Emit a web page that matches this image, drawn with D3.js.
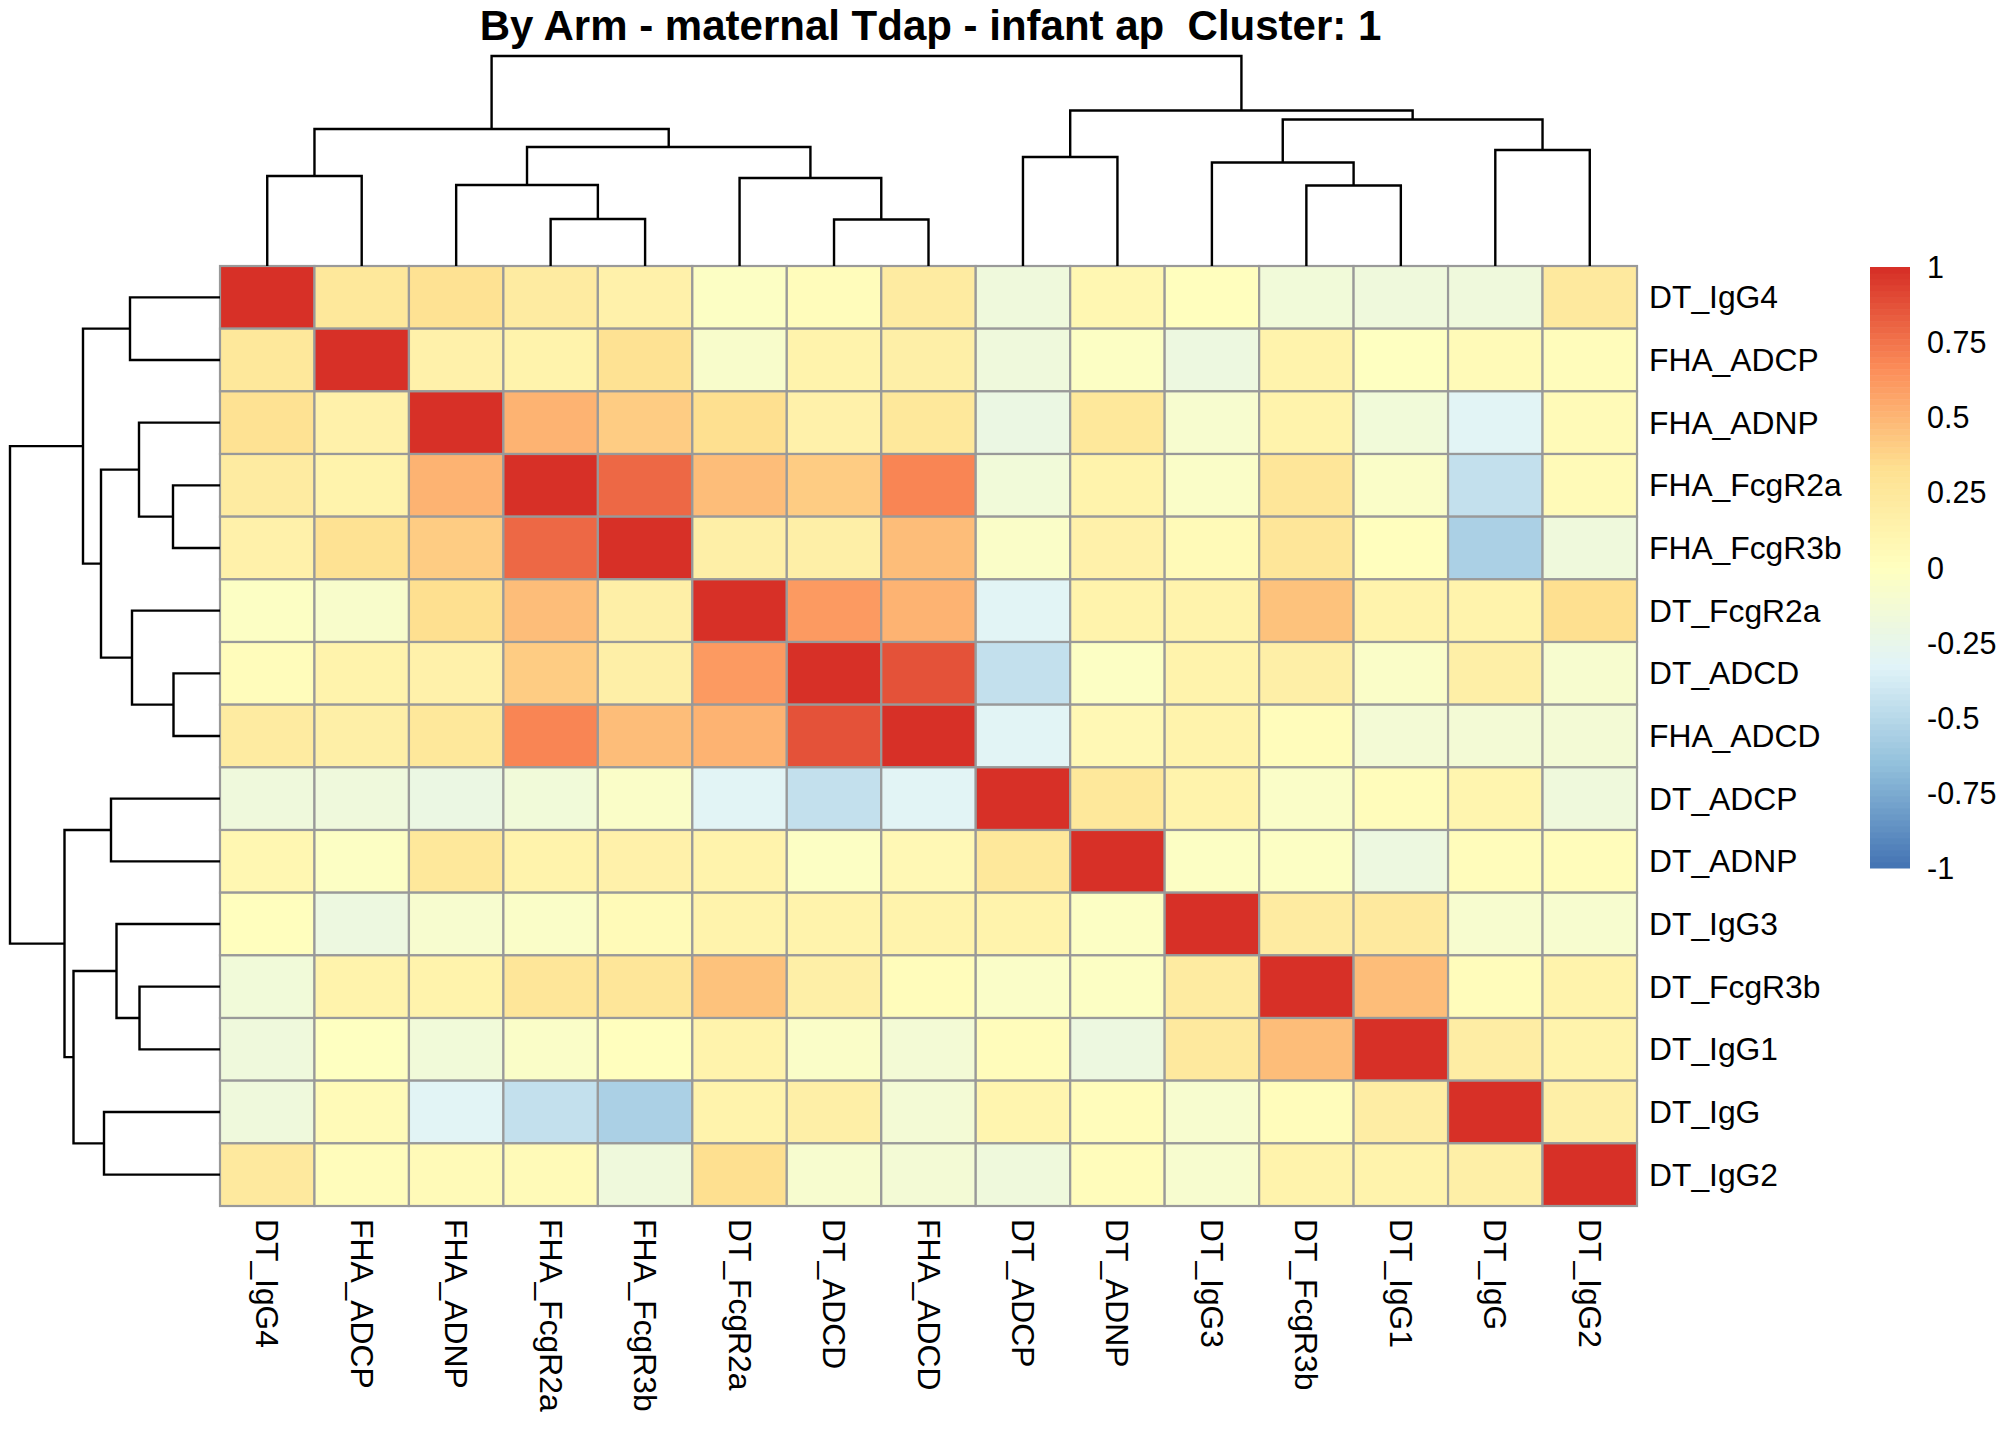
<!DOCTYPE html>
<html>
<head>
<meta charset="utf-8">
<script src="https://cdn.jsdelivr.net/npm/d3@7"></script>
<style>
  body { margin: 0; background: #fff; }
  text { font-family: "Liberation Sans", Arial, sans-serif; fill: #000; }
</style>
</head>
<body>
<div id="chart"></div>
<script>
// display order of rows and columns (same clustering on both axes)
const labels = ["DT_IgG4", "FHA_ADCP", "FHA_ADNP", "FHA_FcgR2a", "FHA_FcgR3b",
  "DT_FcgR2a", "DT_ADCD", "FHA_ADCD", "DT_ADCP", "DT_ADNP",
  "DT_IgG3", "DT_FcgR3b", "DT_IgG1", "DT_IgG", "DT_IgG2"];

// correlation values, one array per row
const corr = [
  [ 1.00,  0.24,  0.30,  0.20,  0.15, -0.03,  0.03,  0.20, -0.17,  0.08,  0.01, -0.15, -0.17, -0.17,  0.22],
  [ 0.24,  1.00,  0.15,  0.12,  0.30, -0.08,  0.13,  0.17, -0.17, -0.04, -0.20,  0.13, -0.02,  0.05,  0.03],
  [ 0.30,  0.15,  1.00,  0.50,  0.40,  0.32,  0.15,  0.25, -0.22,  0.25, -0.10,  0.13, -0.16, -0.32,  0.05],
  [ 0.20,  0.12,  0.50,  1.00,  0.78,  0.47,  0.40,  0.68, -0.16,  0.13, -0.06,  0.27, -0.05, -0.45,  0.04],
  [ 0.15,  0.30,  0.40,  0.78,  1.00,  0.17,  0.17,  0.47, -0.06,  0.15,  0.05,  0.27,  0.00, -0.55, -0.17],
  [-0.03, -0.08,  0.32,  0.47,  0.17,  1.00,  0.60,  0.50, -0.32,  0.13,  0.13,  0.45,  0.13,  0.12,  0.33],
  [ 0.03,  0.13,  0.15,  0.40,  0.17,  0.60,  1.00,  0.87, -0.45, -0.04,  0.13,  0.17, -0.06,  0.17, -0.10],
  [ 0.20,  0.17,  0.25,  0.68,  0.47,  0.50,  0.87,  1.00, -0.32,  0.07,  0.12,  0.02, -0.13, -0.13, -0.13],
  [-0.17, -0.17, -0.22, -0.16, -0.06, -0.32, -0.45, -0.32,  1.00,  0.25,  0.13, -0.06,  0.02,  0.10, -0.17],
  [ 0.08, -0.04,  0.25,  0.13,  0.15,  0.13, -0.04,  0.07,  0.25,  1.00, -0.04, -0.04, -0.20,  0.03,  0.03],
  [ 0.01, -0.20, -0.10, -0.06,  0.05,  0.13,  0.13,  0.12,  0.13, -0.04,  1.00,  0.20,  0.22, -0.10, -0.10],
  [-0.15,  0.13,  0.13,  0.27,  0.27,  0.45,  0.17,  0.02, -0.06, -0.04,  0.20,  1.00,  0.47,  0.02,  0.12],
  [-0.17, -0.02, -0.16, -0.05,  0.00,  0.13, -0.06, -0.13,  0.02, -0.20,  0.22,  0.47,  1.00,  0.18,  0.13],
  [-0.17,  0.05, -0.32, -0.45, -0.55,  0.12,  0.17, -0.13,  0.10,  0.03, -0.10,  0.02,  0.18,  1.00,  0.17],
  [ 0.22,  0.03,  0.05,  0.04, -0.17,  0.33, -0.10, -0.13, -0.17,  0.03, -0.10,  0.12,  0.13,  0.17,  1.00]
];

// hierarchical clustering: each merge joins two leaves (names) or earlier merges ("m<i>")
const treeMerges = [
  ["DT_IgG4", "FHA_ADCP"],
  ["FHA_FcgR2a", "FHA_FcgR3b"],
  ["FHA_ADNP", "m1"],
  ["DT_ADCD", "FHA_ADCD"],
  ["DT_FcgR2a", "m3"],
  ["m2", "m4"],
  ["m0", "m5"],
  ["DT_ADCP", "DT_ADNP"],
  ["DT_FcgR3b", "DT_IgG1"],
  ["DT_IgG3", "m8"],
  ["DT_IgG", "DT_IgG2"],
  ["m9", "m10"],
  ["m7", "m11"],
  ["m6", "m12"]
];
const treeHeights = [0.90, 0.47, 0.81, 0.465, 0.88, 1.19, 1.37, 1.09, 0.805, 1.035, 1.16, 1.465, 1.555, 2.10];

const legendTicks = [1, 0.75, 0.5, 0.25, 0, -0.25, -0.5, -0.75, -1];
const paletteStops = ["#4575B4", "#91BFDB", "#E0F3F8", "#FFFFBF", "#FEE090", "#FC8D59", "#D73027"];
const title = "By Arm - maternal Tdap - infant ap  Cluster: 1";

const W = 2016, H = 1440;
const hm = {left: 220, right: 1637, top: 266, bottom: 1206};

const svg = d3.select("#chart").append("svg")
    .attr("width", W)
    .attr("height", H)
    .style("background-color", "#fff");

// 100 colour bins, like colorRampPalette(rev(brewer.pal(7, "RdYlBu")))(100)
const ramp = d3.piecewise(d3.interpolateRgb, paletteStops);
const palette = d3.range(100).map(i => ramp(i / 99));
const color = d3.scaleQuantize().domain([-1, 1]).range(palette);

let x = d3.scaleBand().domain(labels).range([hm.left, hm.right]);
let y = d3.scaleBand().domain(labels).range([hm.top, hm.bottom]);

// cells
const cells = [];
corr.forEach((row, i) => row.forEach((v, j) => cells.push({r: labels[i], c: labels[j], v})));

svg.append("g").selectAll("rect")
    .data(cells)
    .enter().append("rect")
    .attr("x", d => x(d.c))
    .attr("y", d => y(d.r))
    .attr("width", x.bandwidth())
    .attr("height", y.bandwidth())
    .attr("fill", d => color(d.v))
    .attr("stroke", "#999999")
    .attr("stroke-width", 2.2);

// dendrograms
const maxH = d3.max(treeHeights);
const colH = d3.scaleLinear().domain([0, maxH]).range([hm.top, 56]);
const rowH = d3.scaleLinear().domain([0, maxH]).range([hm.left, 10]);

function buildNodes(posScale) {
  const nodes = {};
  labels.forEach(l => { nodes[l] = {pos: posScale(l) + posScale.bandwidth() / 2, h: 0}; });
  treeMerges.forEach((m, i) => {
    const a = nodes[m[0]], b = nodes[m[1]];
    nodes["m" + i] = {pos: (a.pos + b.pos) / 2, h: treeHeights[i], a, b};
  });
  return treeMerges.map((m, i) => nodes["m" + i]);
}

const colNodes = buildNodes(x);
svg.append("g").selectAll("path")
    .data(colNodes)
    .enter().append("path")
    .attr("d", n => `M${n.a.pos},${colH(n.a.h)}V${colH(n.h)}H${n.b.pos}V${colH(n.b.h)}`)
    .attr("fill", "none")
    .attr("stroke", "#000")
    .attr("stroke-width", 2.4);

const rowNodes = buildNodes(y);
svg.append("g").selectAll("path")
    .data(rowNodes)
    .enter().append("path")
    .attr("d", n => `M${rowH(n.a.h)},${n.a.pos}H${rowH(n.h)}V${n.b.pos}H${rowH(n.b.h)}`)
    .attr("fill", "none")
    .attr("stroke", "#000")
    .attr("stroke-width", 2.4);

// row labels
svg.append("g").selectAll("text")
    .data(labels)
    .enter().append("text")
    .attr("x", hm.right + 12)
    .attr("y", d => y(d) + y.bandwidth() / 2)
    .attr("dominant-baseline", "central")
    .style("font-size", "31.8px")
    .text(d => d);

// column labels, rotated
svg.append("g").selectAll("text")
    .data(labels)
    .enter().append("text")
    .attr("transform", d => `translate(${x(d) + x.bandwidth() / 2},${hm.bottom + 13}) rotate(90)`)
    .attr("dominant-baseline", "central")
    .style("font-size", "31.8px")
    .text(d => d);

// title
svg.append("text")
    .attr("x", (hm.left + hm.right) / 2 + 2)
    .attr("y", 40)
    .attr("text-anchor", "middle")
    .style("font-size", "42px")
    .style("font-weight", "bold")
    .style("white-space", "pre")
    .text(title);

// colour legend
const lg = {x: 1870, w: 40, top: 267, bottom: 868};
const ly = d3.scaleLinear().domain([-1, 1]).range([lg.bottom, lg.top]);
const step = (lg.bottom - lg.top) / palette.length;
svg.append("g").selectAll("rect")
    .data(palette)
    .enter().append("rect")
    .attr("x", lg.x)
    .attr("y", (d, i) => lg.bottom - (i + 1) * step)
    .attr("width", lg.w)
    .attr("height", step + 0.5)
    .attr("fill", d => d);

svg.append("g").selectAll("text")
    .data(legendTicks)
    .enter().append("text")
    .attr("x", lg.x + lg.w + 17)
    .attr("y", d => ly(d))
    .attr("dominant-baseline", "central")
    .style("font-size", "30.5px")
    .text(d => d);
</script>
</body>
</html>
